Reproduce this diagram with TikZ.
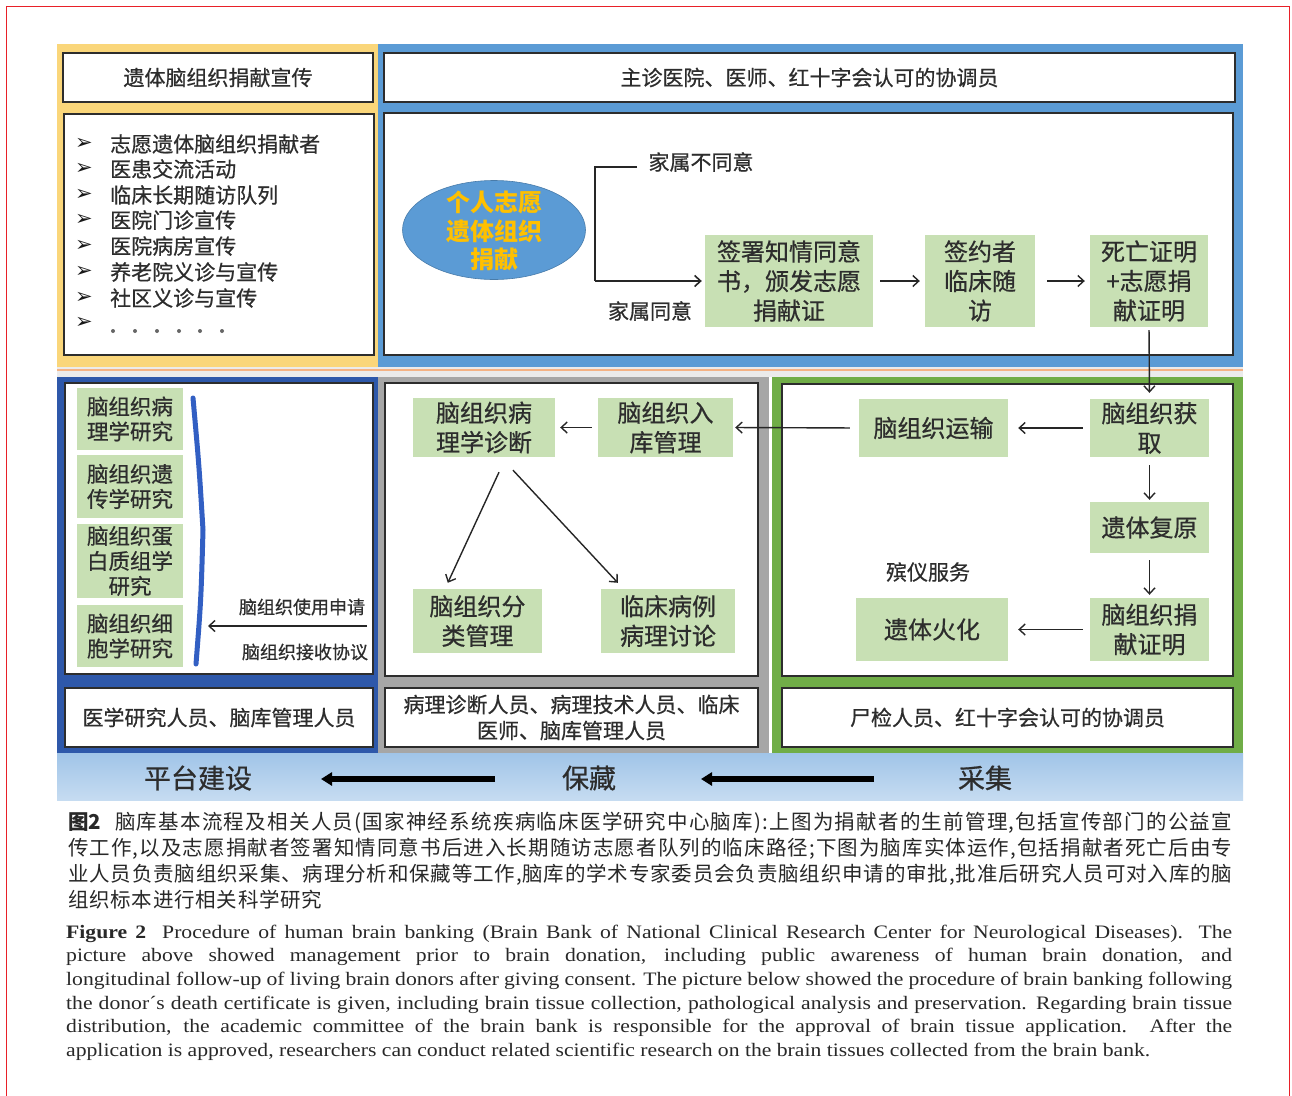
\documentclass[tikz,border=0pt]{standalone}
\usepackage{fontspec}
\setmainfont{Liberation Serif}
\newfontfamily\cjk{Noto Sans CJK SC}[BoldFont=Noto Sans CJK SC, BoldFeatures={FakeBold=0.6}]
\newfontfamily\cjkcap{Noto Sans CJK SC}
\newfontfamily\capfont{Liberation Serif}[FakeStretch=1.14]
\newfontfamily\djv{DejaVu Sans}
\usetikzlibrary{arrows.meta,shapes.geometric,calc}
\definecolor{ypanel}{RGB}{250,214,122}
\definecolor{bpanel}{RGB}{91,155,213}
\definecolor{dbpanel}{RGB}{46,88,170}
\definecolor{gpanel}{RGB}{166,166,166}
\definecolor{grpanel}{RGB}{112,173,71}
\definecolor{lgreen}{RGB}{200,224,180}
\definecolor{txt}{RGB}{45,45,45}
\definecolor{frame}{RGB}{45,45,45}
\definecolor{eyel}{RGB}{255,192,0}
\definecolor{bartop}{RGB}{160,196,232}
\definecolor{barbot}{RGB}{198,220,241}
\definecolor{redframe}{RGB}{232,32,40}
\definecolor{sepc}{RGB}{244,178,132}
\definecolor{bracec}{RGB}{50,95,195}
\definecolor{captxt}{RGB}{40,40,40}
\makeatletter
\newcommand\spreadtext[1]{\@tfor\sp@tok:=#1\do{\sp@tok\hskip 0pt plus 1fil\relax}\unskip}
\makeatother
\tikzset{
  gbox/.style={fill=lgreen, inner sep=0pt, align=center, text=txt,
    font=\cjk\bfseries\fontsize{24}{29.5}\selectfont},
  sbox/.style={fill=lgreen, inner sep=0pt, align=center, text=txt,
    minimum width=106pt, font=\cjk\bfseries\fontsize{21.5}{25}\selectfont},
  wbox/.style={draw=frame, line width=1.5pt, fill=white, inner sep=0pt,
    align=center, text=txt, font=\cjk\bfseries\fontsize{21}{26}\selectfont},
  lbl/.style={inner sep=0pt, text=txt, font=\cjk\bfseries\fontsize{21}{25}\selectfont},
  slbl/.style={inner sep=0pt, text=txt, font=\cjk\bfseries\fontsize{18}{22}\selectfont},
  barlbl/.style={inner sep=0pt, text=txt, font=\cjk\bfseries\fontsize{27}{30}\selectfont},
  bul/.style={inner sep=0pt, text=black!90, font=\djv\bfseries\fontsize{21}{21}\selectfont},
  arr/.style={-{Straight Barb[length=6pt,width=11pt]}, line width=1.4pt, draw=black!85},
  bigarr/.style={-{Triangle[length=11pt,width=13pt]}, line width=6pt, draw=black},
  capzh/.style={inner sep=0pt, anchor=base west, text=captxt,
    font=\cjkcap\fontsize{20.5}{21}\selectfont},
  capen/.style={inner sep=0pt, anchor=base west, text=captxt,
    font=\capfont\fontsize{19}{20}\selectfont},
}
\begin{document}
\begin{tikzpicture}[x=1pt,y=-1pt]
\useasboundingbox (0,0) rectangle (1292,1095);
\fill[white] (0,0) rectangle (1292,1095);
\draw[redframe, line width=1.5pt] (6.5,1096) -- (6.5,6.5) -- (1289.5,6.5) -- (1289.5,1096);

% ---------- panels ----------
\fill[ypanel] (57,44) rectangle (378,367);
\fill[bpanel] (378,44) rectangle (1243,367);
\fill[black!8] (57,367) rectangle (1243,377);
\draw[sepc, line width=2pt] (57,370) -- (1243,370);
\fill[dbpanel] (57,377) rectangle (378,753);
\fill[gpanel] (378,377) rectangle (769,753);
\fill[grpanel] (772,377) rectangle (1243,753);
\shade[top color=bartop, bottom color=barbot] (57,753) rectangle (1243,800);

% ---------- white boxes ----------
\node[wbox, minimum width=310pt, minimum height=49pt] (yt) at (218,77.5) {遗体脑组织捐献宣传};
\node[wbox, minimum width=310pt, minimum height=241pt] (yl) at (219,234.5) {};
\node[wbox, minimum width=851pt, minimum height=49pt] (bt) at (809.5,77.5) {主诊医院、医师、红十字会认可的协调员};
\node[wbox, minimum width=849pt, minimum height=242pt] (bm) at (808.5,234) {};
\node[wbox, minimum width=308pt, minimum height=291pt] (dm) at (219,528.5) {};
\node[wbox, minimum width=308pt, minimum height=59pt] (db) at (219,717.5) {医学研究人员、脑库管理人员};
\node[wbox, minimum width=373pt, minimum height=293pt] (gm) at (571.5,529.5) {};
\node[wbox, minimum width=373pt, minimum height=59pt] (gb) at (571.5,717.5) {病理诊断人员、病理技术人员、临床\\医师、脑库管理人员};
\node[wbox, minimum width=451pt, minimum height=292pt] (rm) at (1007.5,530) {};
\node[wbox, minimum width=451pt, minimum height=59pt] (rb) at (1007.5,717.5) {尸检人员、红十字会认可的协调员};

% ---------- list ----------
\foreach \yy/\t [count=\i] in {144/志愿遗体脑组织捐献者,169/医患交流活动,195/临床长期随访队列,220/医院门诊宣传,246/医院病房宣传,272/养老院义诊与宣传,298/社区义诊与宣传}{
  \node[bul] (b\i) at (84,\yy) {➢};
  \node[lbl, anchor=west] (li\i) at (110,\yy) {\t};
}
\node[bul] (b8) at (84,323) {➢};
\foreach \x in {113,135,157,179,200,222} \fill[black!60] (\x,331) circle (2pt);

% ---------- top flow ----------
\node[ellipse, minimum width=183pt, minimum height=99pt, inner sep=0pt,
  fill=bpanel, draw=bpanel!80!black, line width=0.6pt] (el) at (494,230) {};
\node[inner sep=0pt, align=center, text=eyel,
  font=\cjkcap\bfseries\fontsize{24}{28.5}\selectfont] (elt) at (494,231) {个人志愿\\遗体组织\\捐献};

\node[gbox, minimum width=168pt, minimum height=92pt] (g1) at (789,281) {签署知情同意\\书，颁发志愿\\捐献证};
\node[gbox, minimum width=110pt, minimum height=92pt] (g2) at (980,281) {签约者\\临床随\\访};
\node[gbox, minimum width=118pt, minimum height=92pt] (g3) at (1149,281) {死亡证明\\+志愿捐\\献证明};

\node[lbl] (nd) at (701,162) {家属不同意};
\node[lbl] (ag) at (650,311) {家属同意};
\coordinate (nt) at (637,167);
\draw[line width=1.6pt, draw=black!85] (nt) -- (595,167) -- (595,281);
\draw[arr, line width=1.6pt, shorten >=3pt] (595,281) -- (g1.west);
\draw[arr, shorten <=7pt, shorten >=5pt] (g1.east) -- (g2.west);
\draw[arr, shorten <=12pt, shorten >=5pt] (g2.east) -- (g3.west);

% ---------- bottom right (collection) ----------
\node[gbox, minimum width=119pt, minimum height=58pt] (r1) at (1149.5,428) {脑组织获\\取};
\node[gbox, minimum width=149pt, minimum height=58pt] (r2) at (933.5,428) {脑组织运输};
\node[gbox, minimum width=119pt, minimum height=51pt] (r3) at (1149.5,527.5) {遗体复原};
\node[gbox, minimum width=119pt, minimum height=63pt] (r4) at (1149.5,629.5) {脑组织捐\\献证明};
\node[gbox, minimum width=152pt, minimum height=63pt] (r5) at (932,629.5) {遗体火化};
\node[lbl] (fs) at (928,572) {殡仪服务};

\draw[arr, shorten <=3pt, shorten >=6pt] (g3.south) -- (r1.north);
\draw[arr, shorten <=7pt, shorten >=10pt] (r1.west) -- (r2.east);
\draw[arr, shorten <=8pt, shorten >=2pt] (r1.south) -- (r3.north);
\draw[arr, shorten <=7pt, shorten >=3pt] (r3.south) -- (r4.north);
\draw[arr, shorten <=7pt, shorten >=10pt] (r4.west) -- (r5.east);

% ---------- bottom middle (preservation) ----------
\node[gbox, minimum width=142pt, minimum height=59pt] (m1) at (484,427.5) {脑组织病\\理学诊断};
\node[gbox, minimum width=135pt, minimum height=59pt] (m2) at (665.5,427.5) {脑组织入\\库管理};
\node[gbox, minimum width=129pt, minimum height=64pt] (m3) at (477.5,621) {脑组织分\\类管理};
\node[gbox, minimum width=134pt, minimum height=64pt] (m4) at (668,621) {临床病例\\病理讨论};

\draw[arr, shorten <=9pt, shorten >=2pt] (r2.west) -- (m2.east);
\draw[arr, shorten <=6pt, shorten >=5pt] (m2.west) -- (m1.east);
\draw[arr] ([xshift=15pt,yshift=-15pt]m1.south) -- ([xshift=35pt,yshift=6pt]m3.north west);
\draw[arr] ([xshift=29pt,yshift=-13pt]m1.south) -- ([xshift=17pt,yshift=6pt]m4.north west);

% ---------- bottom left (platform) ----------
\node[sbox, minimum height=62pt] (l1) at (130,419) {脑组织病\\理学研究};
\node[sbox, minimum height=63pt] (l2) at (130,486.5) {脑组织遗\\传学研究};
\node[sbox, minimum height=74pt] (l3) at (130,561) {脑组织蛋\\白质组学\\研究};
\node[sbox, minimum height=62pt] (l4) at (130,636) {脑组织细\\胞学研究};
\draw[bracec, line width=5pt, line cap=round] (193,398) .. controls (199,465) .. (203,530) .. controls (201,600) .. (196,664);
\coordinate (la) at (367,626);
\coordinate (lb) at (208,626);
\draw[arr] (la) -- (lb);
\node[slbl] (sq) at (302,607) {脑组织使用申请};
\node[slbl] (xy) at (305,652) {脑组织接收协议};

% ---------- bottom bar ----------
\node[barlbl] (t1) at (198,778) {平台建设};
\node[barlbl] (t2) at (589,778) {保藏};
\node[barlbl] (t3) at (985,778) {采集};
\coordinate (ba1) at (495,779);
\coordinate (ba2) at (321,779);
\coordinate (ba3) at (874,779);
\coordinate (ba4) at (701,779);
\draw[bigarr] (ba1) -- (ba2);
\draw[bigarr] (ba3) -- (ba4);

% ---------- caption ----------
\node[capzh] (c1) at (68,829) {\makebox[1164pt][s]{{\bfseries 图2}\hspace{14pt}\spreadtext{脑库基本流程及相关人员(国家神经系统疾病临床医学研究中心脑库):上图为捐献者的生前管理,包括宣传部门的公益宣}}};
\node[capzh] (c2) at (68,855) {\makebox[1164pt][s]{\spreadtext{传工作,以及志愿捐献者签署知情同意书后进入长期随访志愿者队列的临床路径;下图为脑库实体运作,包括捐献者死亡后由专}}};
\node[capzh] (c3) at (68,881) {\makebox[1164pt][s]{\spreadtext{业人员负责脑组织采集、病理分析和保藏等工作,脑库的学术专家委员会负责脑组织申请的审批,批准后研究人员可对入库的脑}}};
\node[capzh] (c4) at (68,907) {\makebox[254pt][s]{\spreadtext{组织标本进行相关科学研究}}};

\node[capen] (e1) at (66,938) {\makebox[1166pt][s]{\textbf{Figure 2}\hspace{16pt}Procedure of human brain banking (Brain Bank of National Clinical Research Center for Neurological Diseases). The}};
\node[capen] (e2) at (66,961.7) {\makebox[1166pt][s]{picture above showed management prior to brain donation, including public awareness of human brain donation, and}};
\node[capen] (e3) at (66,985.4) {\makebox[1166pt][s]{longitudinal follow-up of living brain donors after giving consent. The picture below showed the procedure of brain banking following}};
\node[capen] (e4) at (66,1009.1) {\makebox[1166pt][s]{the donor´s death certificate is given, including brain tissue collection, pathological analysis and preservation. Regarding brain tissue}};
\node[capen] (e5) at (66,1032.8) {\makebox[1166pt][s]{distribution, the academic committee of the brain bank is responsible for the approval of brain tissue application. After the}};
\node[capen] (e6) at (66,1056.5) {\makebox[1084pt][s]{application is approved, researchers can conduct related scientific research on the brain tissues collected from the brain bank.}};
\end{tikzpicture}
\end{document}
